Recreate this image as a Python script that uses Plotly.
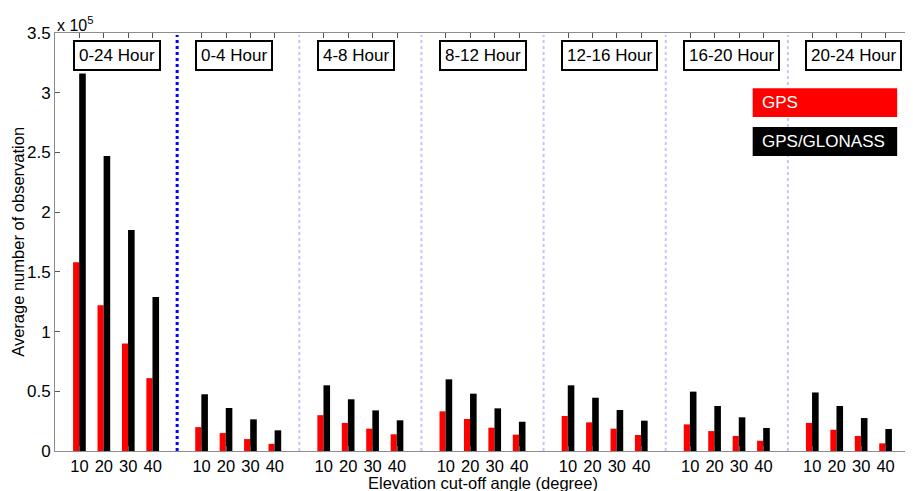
import plotly.graph_objects as go

# ---- data (values in units of 1e5 observations) ----
periods = ["0-24 Hour", "0-4 Hour", "4-8 Hour", "8-12 Hour", "12-16 Hour", "16-20 Hour", "20-24 Hour"]
angles = ["10", "20", "30", "40"]
gps = [
    [1.58, 1.22, 0.90, 0.61],
    [0.20, 0.15, 0.10, 0.06],
    [0.30, 0.235, 0.187, 0.14],
    [0.332, 0.268, 0.195, 0.137],
    [0.293, 0.24, 0.187, 0.134],
    [0.223, 0.167, 0.126, 0.086],
    [0.235, 0.178, 0.126, 0.064],
]
gps_glonass = [
    [3.16, 2.47, 1.85, 1.29],
    [0.475, 0.36, 0.265, 0.173],
    [0.55, 0.433, 0.34, 0.257],
    [0.60, 0.48, 0.357, 0.245],
    [0.55, 0.446, 0.343, 0.254],
    [0.497, 0.377, 0.282, 0.193],
    [0.49, 0.377, 0.276, 0.184],
]
series_names = ["GPS", "GPS/GLONASS"]
y_ticks = [0, 0.5, 1, 1.5, 2, 2.5, 3, 3.5]
x_title = "Elevation cut-off angle (degree)"
y_title = "Average number of observation"

FONT = "Liberation Sans, Arial, sans-serif"
GROUP = 5  # slots per group (4 angles + 1 gap)

xs, gps_y, gg_y, tick_text = [], [], [], []
for g in range(len(periods)):
    for i in range(len(angles)):
        xs.append(g * GROUP + i + 1)
        gps_y.append(gps[g][i])
        gg_y.append(gps_glonass[g][i])
        tick_text.append(angles[i])

fig = go.Figure()
fig.add_trace(go.Bar(x=xs, y=gps_y, name=series_names[0], marker_color="#ff0000",
                     marker_line_width=0, width=0.25, offset=-0.26))
fig.add_trace(go.Bar(x=xs, y=gg_y, name=series_names[1], marker_color="#000000",
                     marker_line_width=0, width=0.27, offset=-0.01))

shapes = []
annotations = []
# separators
for g in range(1, len(periods)):
    xsep = g * GROUP
    if g == 1:
        line = dict(color="#0000ff", width=3, dash="dot")
    else:
        line = dict(color="#c4c4ff", width=2, dash="dot")
    shapes.append(dict(type="line", xref="x", yref="paper", x0=xsep, x1=xsep,
                       y0=0, y1=0.995, line=line, layer="below"))

# period labels
for g, p in enumerate(periods):
    annotations.append(dict(x=g * GROUP + 0.72, y=3.31, xref="x", yref="y",
                            text=p, showarrow=False, xanchor="left", yanchor="middle",
                            font=dict(family=FONT, size=17, color="black"),
                            bgcolor="white", bordercolor="black", borderwidth=2,
                            borderpad=4))

# legend boxes
leg_colors = ["#ff0000", "#000000"]
leg_y = [(0.799, 0.868), (0.706, 0.775)]
for name, col, (y0, y1) in zip(series_names, leg_colors, leg_y):
    shapes.append(dict(type="rect", xref="paper", yref="paper", x0=0.816, x1=0.985,
                       y0=y0, y1=y1, fillcolor=col, line=dict(width=0), layer="above"))
    annotations.append(dict(x=0.825, y=(y0 + y1) / 2, xref="paper", yref="paper",
                            text=name, showarrow=False, xanchor="left", yanchor="middle",
                            font=dict(family=FONT, size=17, color="white")))

# exponent label
annotations.append(dict(x=0, y=1, xref="paper", yref="paper", text="x 10<sup>5</sup>",
                        showarrow=False, xanchor="left", yanchor="bottom", yshift=-3,
                        font=dict(family=FONT, size=16, color="black")))
# axis titles
annotations.append(dict(x=0.5, y=-0.077, xref="paper", yref="paper", text=x_title,
                        showarrow=False, xanchor="center", yanchor="middle",
                        font=dict(family=FONT, size=16.5, color="black")))
annotations.append(dict(x=-0.0435, y=0.5, xref="paper", yref="paper", text=y_title,
                        showarrow=False, xanchor="center", yanchor="middle", textangle=-90,
                        font=dict(family=FONT, size=16.5, color="black")))

# page body has an 8px margin, so the figure is sized to fit the 913x491 window
fig.update_layout(
    width=905, height=483,
    margin=dict(l=47, r=3, t=25, b=40, autoexpand=False),
    paper_bgcolor="white", plot_bgcolor="white",
    barmode="overlay", showlegend=False,
    font=dict(family=FONT, size=17, color="black"),
    shapes=shapes, annotations=annotations,
)
fig.update_xaxes(range=[0, 35], tickmode="array", tickvals=xs, ticktext=tick_text,
                 ticks="inside", ticklen=5, tickcolor="#555555", mirror="ticks",
                 showline=True, linecolor="#8c8c8c", linewidth=1, showgrid=False,
                 zeroline=False, tickfont=dict(size=16.5), automargin=False)
fig.update_yaxes(range=[0, 3.5], tickmode="array", tickvals=y_ticks,
                 ticktext=[f"{v:g}" for v in y_ticks],
                 ticks="inside", ticklen=5, tickcolor="#555555", mirror="ticks",
                 showline=True, linecolor="#8c8c8c", linewidth=1, showgrid=False,
                 zeroline=False, tickfont=dict(size=17), automargin=False)

fig.write_html("out.html")
